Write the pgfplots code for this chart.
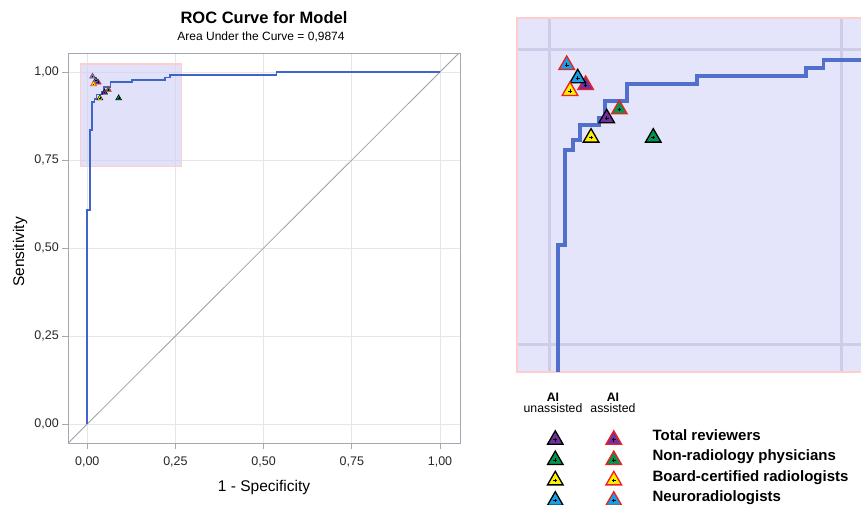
\documentclass[border=0pt]{standalone}
\usepackage{fontspec}
\setmainfont{Liberation Sans}
\usepackage{pgfplots}
\pgfplotsset{compat=1.18}
\usepackage{pgfplotstable}

\definecolor{tpurple}{RGB}{112,48,160}
\definecolor{tgreen}{RGB}{0,150,80}
\definecolor{tyellow}{RGB}{255,240,0}
\definecolor{tblue}{RGB}{20,160,230}
\definecolor{curveblue}{RGB}{65,100,200}
\definecolor{lav}{RGB}{228,228,250}
\definecolor{lavrect}{RGB}{205,205,245}
\definecolor{lavgrid}{RGB}{205,205,234}
\definecolor{pinkb}{RGB}{255,205,205}
\definecolor{axgray}{RGB}{165,168,178}
\definecolor{gridgray}{RGB}{230,230,230}
\definecolor{diag}{RGB}{160,160,160}
\definecolor{tred}{RGB}{240,30,30}

\pgfplotstableread{
x y
0 0
0 0.608
0.0077 0.608
0.0077 0.8347
0.0133 0.8347
0.0133 0.9153
0.0203 0.9153
0.0203 0.9237
0.0262 0.9237
0.0262 0.9364
0.0425 0.9364
0.0425 0.9424
0.0476 0.9424
0.0476 0.9568
0.0664 0.9568
0.0664 0.9712
0.1263 0.9712
0.1263 0.9780
0.2195 0.9780
0.2195 0.9847
0.2343 0.9847
0.2343 0.9915
0.5370 0.9915
0.5370 1.0
1.0 1.0
}\roc

\pgfdeclareplotmark{triplus}{%
  \pgfpathmoveto{\pgfqpoint{0pt}{\pgfplotmarksize}}%
  \pgfpathlineto{\pgfqpointpolar{-30}{\pgfplotmarksize}}%
  \pgfpathlineto{\pgfqpointpolar{210}{\pgfplotmarksize}}%
  \pgfpathclose
  \pgfusepathqfillstroke
  \pgfsetstrokecolor{black}%
  \pgfsetlinewidth{0.07\pgfplotmarksize}%
  \pgfpathmoveto{\pgfqpoint{-0.2\pgfplotmarksize}{0pt}}%
  \pgfpathlineto{\pgfqpoint{0.2\pgfplotmarksize}{0pt}}%
  \pgfpathmoveto{\pgfqpoint{0pt}{-0.2\pgfplotmarksize}}%
  \pgfpathlineto{\pgfqpoint{0pt}{0.2\pgfplotmarksize}}%
  \pgfusepathqstroke
}

% readers' operating points: unassisted (black outline) and AI-assisted (red outline)
\newcommand\drawtris[2]{%
 \addplot[forget plot, only marks, mark=triplus, mark size=#1, mark options={fill=tpurple, draw=black, line width=#2}] coordinates {(0.0491,0.9421)};
 \addplot[forget plot, only marks, mark=triplus, mark size=#1, mark options={fill=tgreen, draw=black, line width=#2}] coordinates {(0.0889,0.9257)};
 \addplot[forget plot, only marks, mark=triplus, mark size=#1, mark options={fill=tyellow, draw=black, line width=#2}] coordinates {(0.0357,0.9257)};
 \addplot[forget plot, only marks, mark=triplus, mark size=#1, mark options={fill=tgreen, draw=tred, line width=#2}] coordinates {(0.0599,0.9497)};
 \addplot[forget plot, only marks, mark=triplus, mark size=#1, mark options={fill=tpurple, draw=tred, line width=#2}] coordinates {(0.0311,0.9703)};
 \addplot[forget plot, only marks, mark=triplus, mark size=#1, mark options={fill=tblue, draw=black, line width=#2}] coordinates {(0.0243,0.9760)};
 \addplot[forget plot, only marks, mark=triplus, mark size=#1, mark options={fill=tyellow, draw=tred, line width=#2}] coordinates {(0.0177,0.9653)};
 \addplot[forget plot, only marks, mark=triplus, mark size=#1, mark options={fill=tblue, draw=tred, line width=#2}] coordinates {(0.0149,0.9873)};
}

\newcommand\legtri[1]{%
 \draw[black, fill=#1, line width=1.3pt] plot[only marks, mark=triplus, mark size=9pt] coordinates {(0pt,4pt)};
 \draw[tred, fill=#1, line width=1.3pt] plot[only marks, mark=triplus, mark size=9pt] coordinates {(58.5pt,4pt)};
}

\begin{document}
\begin{tikzpicture}
\useasboundingbox (0pt,0pt) rectangle (861pt,504pt);
\clip (0pt,0pt) rectangle (861pt,504pt);

% ---------------- main ROC axis ----------------
\begin{axis}[
  at={(68.3pt,60.7pt)}, anchor=south west,
  scale only axis, width=391.7pt, height=390pt,
  xmin=-0.0538, xmax=1.0567, ymin=-0.0548, ymax=1.0531,
  xtick={0,0.25,0.5,0.75,1}, ytick={0,0.25,0.5,0.75,1},
  xticklabels={{0,00},{0,25},{0,50},{0,75},{1,00}},
  yticklabels={{0,00},{0,25},{0,50},{0,75},{1,00}},
  tick pos=left, tick align=outside, major tick length=6pt,
  axis line style={axgray, line width=1pt},
  tick style={axgray, line width=0.8pt},
  grid=major, major grid style={gridgray, line width=0.8pt},
  ticklabel style={font=\fontsize{12.5}{14}\selectfont, text=black!85},
  xticklabel style={yshift=-4pt},
  clip=true,
]
\addplot[draw=pinkb, line width=1.2pt, fill=lavrect, fill opacity=0.6] coordinates {(-0.0198,0.731) (0.268,0.731) (0.268,1.0227) (-0.0198,1.0227)} -- cycle;
\addplot[diag, line width=0.8pt] coordinates {(-0.07,-0.07) (1.07,1.07)};
\addplot[draw=curveblue, line width=1.6pt] table[x=x,y=y] {\roc};
\drawtris{3.4pt}{0.5pt}
\end{axis}

% ---------------- zoomed inset ----------------
\begin{axis}[
  at={(517pt,132pt)}, anchor=south west,
  scale only axis, width=350.4pt, height=354pt,
  xmin=-0.0276, xmax=0.272, ymin=0.7271, ymax=1.0271,
  axis background/.style={fill=lav},
  axis line style={pinkb, line width=1.5pt},
  xtick={0,0.25}, ytick={0.75,1}, xticklabels={}, yticklabels={},
  major tick length=0pt,
  grid=major, major grid style={lavgrid, line width=3pt},
  clip=true,
  legend cell align=left,
  legend style={
    at={(axis description cs:0.087,-0.1627)}, anchor=north west,
    draw=none, fill=none, inner sep=0pt, outer sep=0pt,
    row sep={20.3pt,between origins}, column sep={97.3pt,between origins},
    nodes={inner sep=0pt, yshift=8pt, font=\bfseries\fontsize{15}{17}\selectfont, text=black},
  },
]
\addplot[forget plot, draw=curveblue, line width=3.6pt, opacity=0.9] table[x=x,y=y] {\roc};
\drawtris{9pt}{1.3pt}
\addlegendimage{legend image code/.code={\legtri{tpurple}}}
\addlegendentry{Total reviewers}
\addlegendimage{legend image code/.code={\legtri{tgreen}}}
\addlegendentry{Non-radiology physicians}
\addlegendimage{legend image code/.code={\legtri{tyellow}}}
\addlegendentry{Board-certified radiologists}
\addlegendimage{legend image code/.code={\legtri{tblue}}}
\addlegendentry{Neuroradiologists}
\end{axis}

% ---------------- titles and labels ----------------
\node[anchor=base, font=\bfseries\fontsize{16.5}{18}\selectfont] at (264pt,480.7pt) {ROC Curve for Model};
\node[anchor=base, font=\fontsize{12}{14}\selectfont] at (261pt,463pt) {Area Under the Curve = 0,9874};
\node[anchor=base, font=\fontsize{15.5}{17}\selectfont] at (264pt,12.3pt) {1 - Specificity};
\node[anchor=base, rotate=90, font=\fontsize{15.5}{17}\selectfont] at (24pt,252pt) {Sensitivity};

\node[anchor=base, font=\bfseries\fontsize{12.3}{14}\selectfont] at (553pt,102.3pt) {AI};
\node[anchor=base, font=\fontsize{12.3}{14}\selectfont] at (553pt,91.7pt) {unassisted};
\node[anchor=base, font=\bfseries\fontsize{12.3}{14}\selectfont] at (613pt,102.3pt) {AI};
\node[anchor=base, font=\fontsize{12.3}{14}\selectfont] at (613pt,91.7pt) {assisted};
\end{tikzpicture}
\end{document}
